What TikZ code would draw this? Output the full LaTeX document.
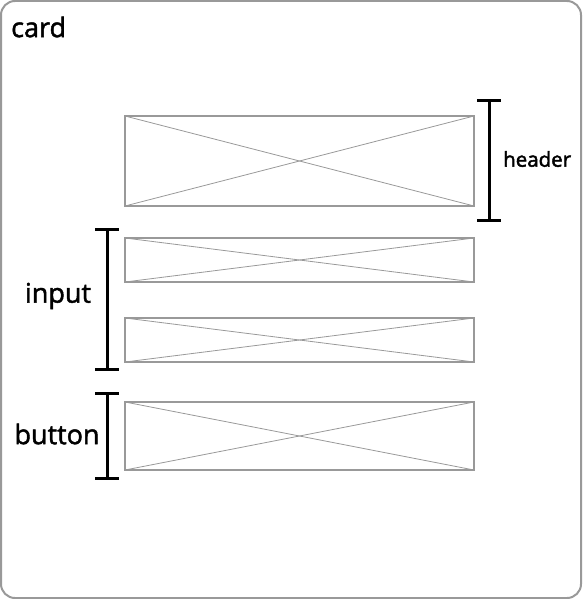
\documentclass[tikz,border=0pt]{standalone}
\usepackage{fontspec}
\setmainfont{Open Sans}
\newcommand\heavytxt[1]{\special{pdf:literal direct 2 Tr 0.45 w}#1\special{pdf:literal direct 0 Tr}}
\begin{document}
\begin{tikzpicture}[x=1pt,y=-1pt,
  frame/.style={draw=black!40, line width=2pt, rounded corners=14pt},
  wbox/.style={draw=black!40, line width=2pt, minimum width=349pt, inner sep=0pt, outer sep=0pt},
  diag/.style={draw=black!40, line width=0.8pt},
  brk/.style={draw=black, line width=3pt},
  biglbl/.style={font=\fontsize{27}{31}\selectfont, inner sep=0pt},
  smalllbl/.style={font=\fontsize{20.5}{24}\selectfont, inner sep=0pt}]
\useasboundingbox (0,0) rectangle (582,599);
\draw[frame] (1,1) rectangle (581,598);
\node[biglbl, anchor=west] (card) at (11,27) {\heavytxt{card}};
% boxes
\node[wbox, minimum height=90pt] (hdr) at (299.5,161) {};
\node[wbox, minimum height=44pt] (in1) at (299.5,260) {};
\node[wbox, minimum height=44pt] (in2) at (299.5,340) {};
\node[wbox, minimum height=68pt] (btn) at (299.5,436) {};
\foreach \b in {hdr,in1,in2,btn}{
  \draw[diag] (\b.north west) -- (\b.south east);
  \draw[diag] (\b.south west) -- (\b.north east);
}
% brackets
\coordinate (ht) at (489,101);
\coordinate (hb) at (489,220);
\draw[brk] (ht) -- (hb);
\draw[brk] ([xshift=-12pt]ht) -- ([xshift=12pt]ht);
\draw[brk] ([xshift=-12pt]hb) -- ([xshift=12pt]hb);
\node[smalllbl, anchor=west] (hlbl) at (503,159) {\heavytxt{header}};
\coordinate (it) at (107,229);
\coordinate (ib) at (107,369);
\draw[brk] (it) -- (ib);
\draw[brk] ([xshift=-12pt]it) -- ([xshift=12pt]it);
\draw[brk] ([xshift=-12pt]ib) -- ([xshift=12pt]ib);
\node[biglbl] (ilbl) at (58,296) {\heavytxt{input}};
\coordinate (bt) at (107,393);
\coordinate (bb) at (107,478);
\draw[brk] (bt) -- (bb);
\draw[brk] ([xshift=-12pt]bt) -- ([xshift=12pt]bt);
\draw[brk] ([xshift=-12pt]bb) -- ([xshift=12pt]bb);
\node[biglbl] (blbl) at (57,434) {\heavytxt{button}};
\end{tikzpicture}
\end{document}
